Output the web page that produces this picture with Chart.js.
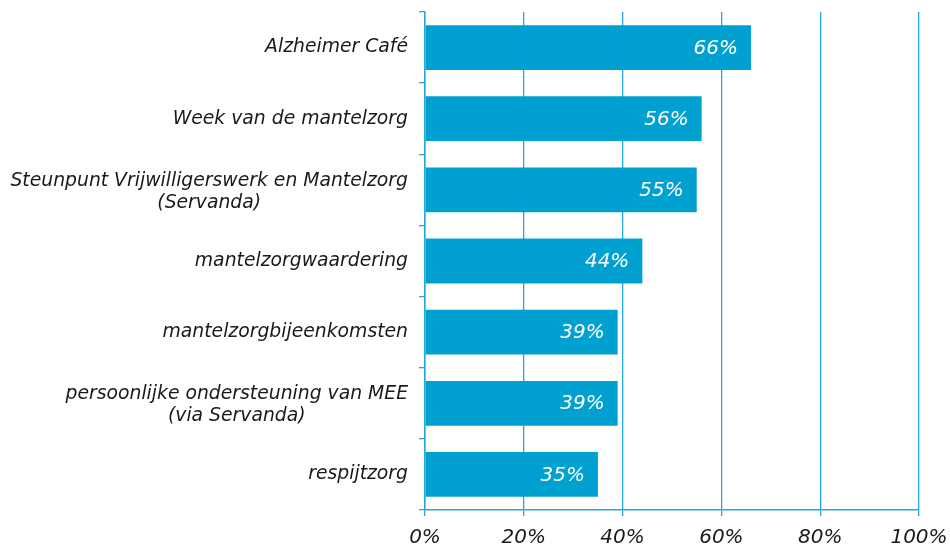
<!DOCTYPE html>
<html><head><meta charset="utf-8">
<script src="https://cdn.jsdelivr.net/npm/chart.js@4"></script>
<style>html,body{margin:0;padding:0;background:#fff}#wrap{width:950px;height:545px}</style>
</head><body><div id="wrap"><canvas id="c" width="950" height="545"></canvas></div>
<script>
const categories = [
  ["Alzheimer Café"],
  ["Week van de mantelzorg"],
  ["Steunpunt Vrijwilligerswerk en Mantelzorg", "(Servanda)"],
  ["mantelzorgwaardering"],
  ["mantelzorgbijeenkomsten"],
  ["persoonlijke ondersteuning van MEE", "(via Servanda)"],
  ["respijtzorg"]
];
const values = [66, 56, 55, 44, 39, 39, 35];
const xTicks = [0, 20, 40, 60, 80, 100];

const FONT = '"DejaVu Sans", Verdana, sans-serif';
const BAR = '#00A1D1';
const GRID = '#25A8DC';

const yLabelPlugin = {
  id: 'yLabels',
  afterDraw(chart) {
    const ctx = chart.ctx, y = chart.scales.y, area = chart.chartArea;
    ctx.save();
    ctx.font = 'italic 18.8px ' + FONT;
    ctx.fillStyle = '#1a1a1a';
    ctx.textBaseline = 'middle';
    ctx.textAlign = 'center';
    const right = area.left - 17, lh = 22;
    categories.forEach((lines, i) => {
      const cy = y.getPixelForValue(i) + (lines.length > 1 ? 2 : 0);
      const w = Math.max(...lines.map(l => ctx.measureText(l).width));
      const cx = right - w / 2;
      const y0 = cy - (lines.length - 1) * lh / 2;
      lines.forEach((l, j) => ctx.fillText(l, cx, y0 + j * lh));
    });
    ctx.restore();
  }
};

const valueLabelPlugin = {
  id: 'valueLabels',
  afterDatasetsDraw(chart) {
    const ctx = chart.ctx, meta = chart.getDatasetMeta(0);
    ctx.save();
    ctx.font = 'italic 20px ' + FONT;
    ctx.fillStyle = '#ffffff';
    ctx.textAlign = 'right';
    ctx.textBaseline = 'middle';
    meta.data.forEach((bar, i) => {
      ctx.fillText(values[i] + '%', bar.x - 13, bar.y + 1);
    });
    ctx.restore();
  }
};

new Chart(document.getElementById('c'), {
  type: 'bar',
  data: {
    labels: categories.map(c => c.join(' ')),
    datasets: [{ data: values, backgroundColor: BAR, borderWidth: 0,
      categoryPercentage: 1, barPercentage: 0.63 }]
  },
  options: {
    indexAxis: 'y',
    responsive: false,
    animation: false,
    layout: { padding: { top: 12, right: 31, left: 0, bottom: 0 } },
    plugins: { legend: { display: false }, tooltip: { enabled: false } },
    scales: {
      x: {
        min: 0, max: 100,
        afterBuildTicks(s) { s.ticks = xTicks.map(v => ({ value: v })); },
        afterFit(s) { s.height = 35; s.paddingRight = 0; s.paddingLeft = 0; },
        border: { display: true, color: GRID, width: 1.5 },
        grid: { color: GRID, lineWidth: 1.3, tickLength: 6, drawTicks: true },
        ticks: { callback: v => v + '%', color: '#1a1a1a', padding: 10,
          font: { family: FONT, size: 20, style: 'italic' }, maxRotation: 0 }
      },
      y: {
        afterFit(s) { s.width = 425; },
        border: { display: true, color: GRID, width: 1.5 },
        grid: { offset: true, drawOnChartArea: false, color: GRID, lineWidth: 1.3, tickLength: 6 },
        ticks: { display: false }
      }
    }
  },
  plugins: [yLabelPlugin, valueLabelPlugin]
});
</script>
</body></html>
